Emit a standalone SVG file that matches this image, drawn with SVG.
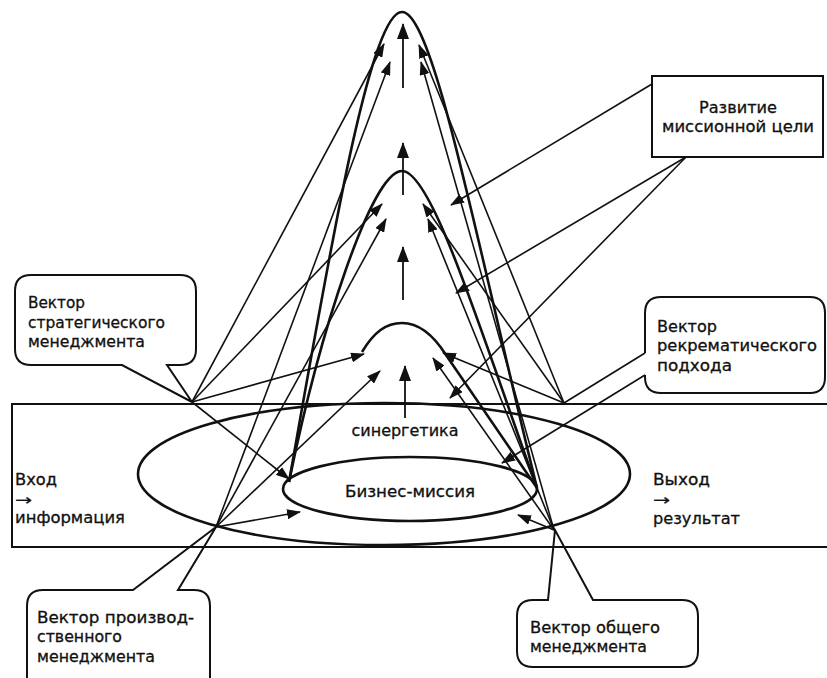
<svg xmlns="http://www.w3.org/2000/svg" width="827" height="678" viewBox="0 0 827 678">
<defs>
<marker id="ah" markerUnits="userSpaceOnUse" markerWidth="14" markerHeight="10" refX="13" refY="5" orient="auto"><path d="M0,0 L14,5 L0,10 Z" fill="#111"/></marker>
<marker id="ahb" markerUnits="userSpaceOnUse" markerWidth="16" markerHeight="12" refX="15" refY="6" orient="auto"><path d="M0,0 L16,6 L0,12 Z" fill="#111"/></marker>
</defs>
<style>
text{font-family:"DejaVu Sans","Liberation Sans",sans-serif;font-size:15px;fill:#111;stroke:#111;stroke-width:0.3}
.c{text-anchor:middle}
.box{fill:#fff;stroke:#111;stroke-width:2}
.thick{fill:none;stroke:#111;stroke-width:2.6}
.ln{fill:none;stroke:#111;stroke-width:1.6;marker-end:url(#ah)}
.pl{fill:none;stroke:#111;stroke-width:1.6}
.va{fill:none;stroke:#111;stroke-width:1.8;marker-end:url(#ahb)}
</style>
<rect width="827" height="678" fill="#fff"/>

<g id="callout-strategic">
<path class="box" d="M31,275 H180 Q196,275 196,291 V349 Q196,365 180,365 H167 L192,402 L122,365 H31 Q15,365 15,349 V291 Q15,275 31,275 Z"/>
<text x="28" y="308" textLength="57" lengthAdjust="spacingAndGlyphs">Вектор</text>
<text x="28" y="328" textLength="137" lengthAdjust="spacingAndGlyphs">стратегического</text>
<text x="28" y="347" textLength="117" lengthAdjust="spacingAndGlyphs">менеджмента</text>
</g>

<g id="callout-recrematic">
<path class="box" d="M645,353 V313 Q645,297 661,297 H810 Q825,297 825,313 V377 Q825,393 810,393 H661 Q645,393 645,377 V375"/>
<path class="pl" d="M645,353 L564,403"/>
<text x="657" y="332" textLength="60" lengthAdjust="spacingAndGlyphs">Вектор</text>
<text x="657" y="351" textLength="160" lengthAdjust="spacingAndGlyphs">рекрематического</text>
<text x="657" y="371" textLength="75" lengthAdjust="spacingAndGlyphs">подхода</text>
</g>

<g id="callout-production">
<path class="box" d="M43,590 H133 L216,527 L178,590 H194 Q210,590 210,606 V692 H27 V606 Q27,590 43,590 Z"/>
<text x="37" y="623" textLength="157" lengthAdjust="spacingAndGlyphs">Вектор производ-</text>
<text x="37" y="642" textLength="85" lengthAdjust="spacingAndGlyphs">ственного</text>
<text x="37" y="662" textLength="118" lengthAdjust="spacingAndGlyphs">менеджмента</text>
</g>

<g id="callout-general">
<path class="box" d="M533,600 H548 L555,530 L593,600 H682 Q698,600 698,616 V651 Q698,667 682,667 H533 Q517,667 517,651 V616 Q517,600 533,600 Z"/>
<text x="530" y="633" textLength="130" lengthAdjust="spacingAndGlyphs">Вектор общего</text>
<text x="530" y="652" textLength="117" lengthAdjust="spacingAndGlyphs">менеджмента</text>
</g>

<g id="goal-box">
<rect class="box" x="652" y="76" width="171" height="81"/>
<text class="c" x="738" y="113" textLength="78" lengthAdjust="spacingAndGlyphs">Развитие</text>
<text class="c" x="738" y="132" textLength="152" lengthAdjust="spacingAndGlyphs">миссионной цели</text>
</g>

<g id="io-band">
<rect x="12" y="404" width="830" height="143" fill="none" stroke="#111" stroke-width="2"/>
<text x="15" y="485" textLength="42" lengthAdjust="spacingAndGlyphs">Вход</text>
<text x="15" y="505" textLength="17" lengthAdjust="spacingAndGlyphs">→</text>
<text x="15" y="523" textLength="110" lengthAdjust="spacingAndGlyphs">информация</text>
<text x="653" y="485" textLength="57" lengthAdjust="spacingAndGlyphs">Выход</text>
<text x="653" y="505" textLength="17" lengthAdjust="spacingAndGlyphs">→</text>
<text x="653" y="524" textLength="87" lengthAdjust="spacingAndGlyphs">результат</text>
</g>

<g id="synergy-ellipse">
<ellipse cx="384" cy="474" rx="246" ry="71" class="thick" stroke-width="2.4"/>
<text class="c" x="405" y="436" textLength="107" lengthAdjust="spacingAndGlyphs">синергетика</text>
</g>

<g id="business-mission">
<ellipse cx="410" cy="489" rx="127" ry="32" class="thick"/>
<text class="c" x="410" y="497" textLength="130" lengthAdjust="spacingAndGlyphs">Бизнес-миссия</text>
</g>

<g id="bells">
<path class="thick" d="M289,482 C330,250 370,12 402,12 C434,12 478,250 537,488"/>
<path class="thick" d="M289,482 C320,330 372,171 402,171 C432,171 480,330 537,488"/>
<path class="thick" d="M362,352 C374,332 386,323 402,323 C420,323 434,336 446,355 L537,488"/>
</g>

<g id="connectors">
<path class="va" d="M403,88 V24"/>
<path class="va" d="M403,195 V143"/>
<path class="va" d="M403,300 V247"/>
<path class="va" d="M405,418 V366"/>

<path class="ln" d="M192,402 L384,44"/>
<path class="ln" d="M192,402 L382,204"/>
<path class="ln" d="M192,402 L364,354"/>
<path class="ln" d="M192,402 L289,479"/>

<path class="ln" d="M216,527 L390,62"/>
<path class="ln" d="M216,527 L386,219"/>
<path class="ln" d="M216,527 L380,371"/>
<path class="ln" d="M216,527 L300,512"/>

<path class="ln" d="M564,403 L419,45"/>
<path class="ln" d="M564,403 L423,204"/>
<path class="ln" d="M564,403 L443,353"/>

<path class="ln" d="M554,530 L421,62"/>
<path class="ln" d="M554,530 L428,219"/>
<path class="ln" d="M554,530 L433,358"/>
<path class="ln" d="M554,530 L518,515"/>

<path class="ln" d="M652,84 L451,205"/>
<path class="ln" d="M686,157 L456,293"/>
<path class="ln" d="M686,157 L450,398"/>
<path class="ln" d="M645,375 L502,463"/>
</g>
</svg>
